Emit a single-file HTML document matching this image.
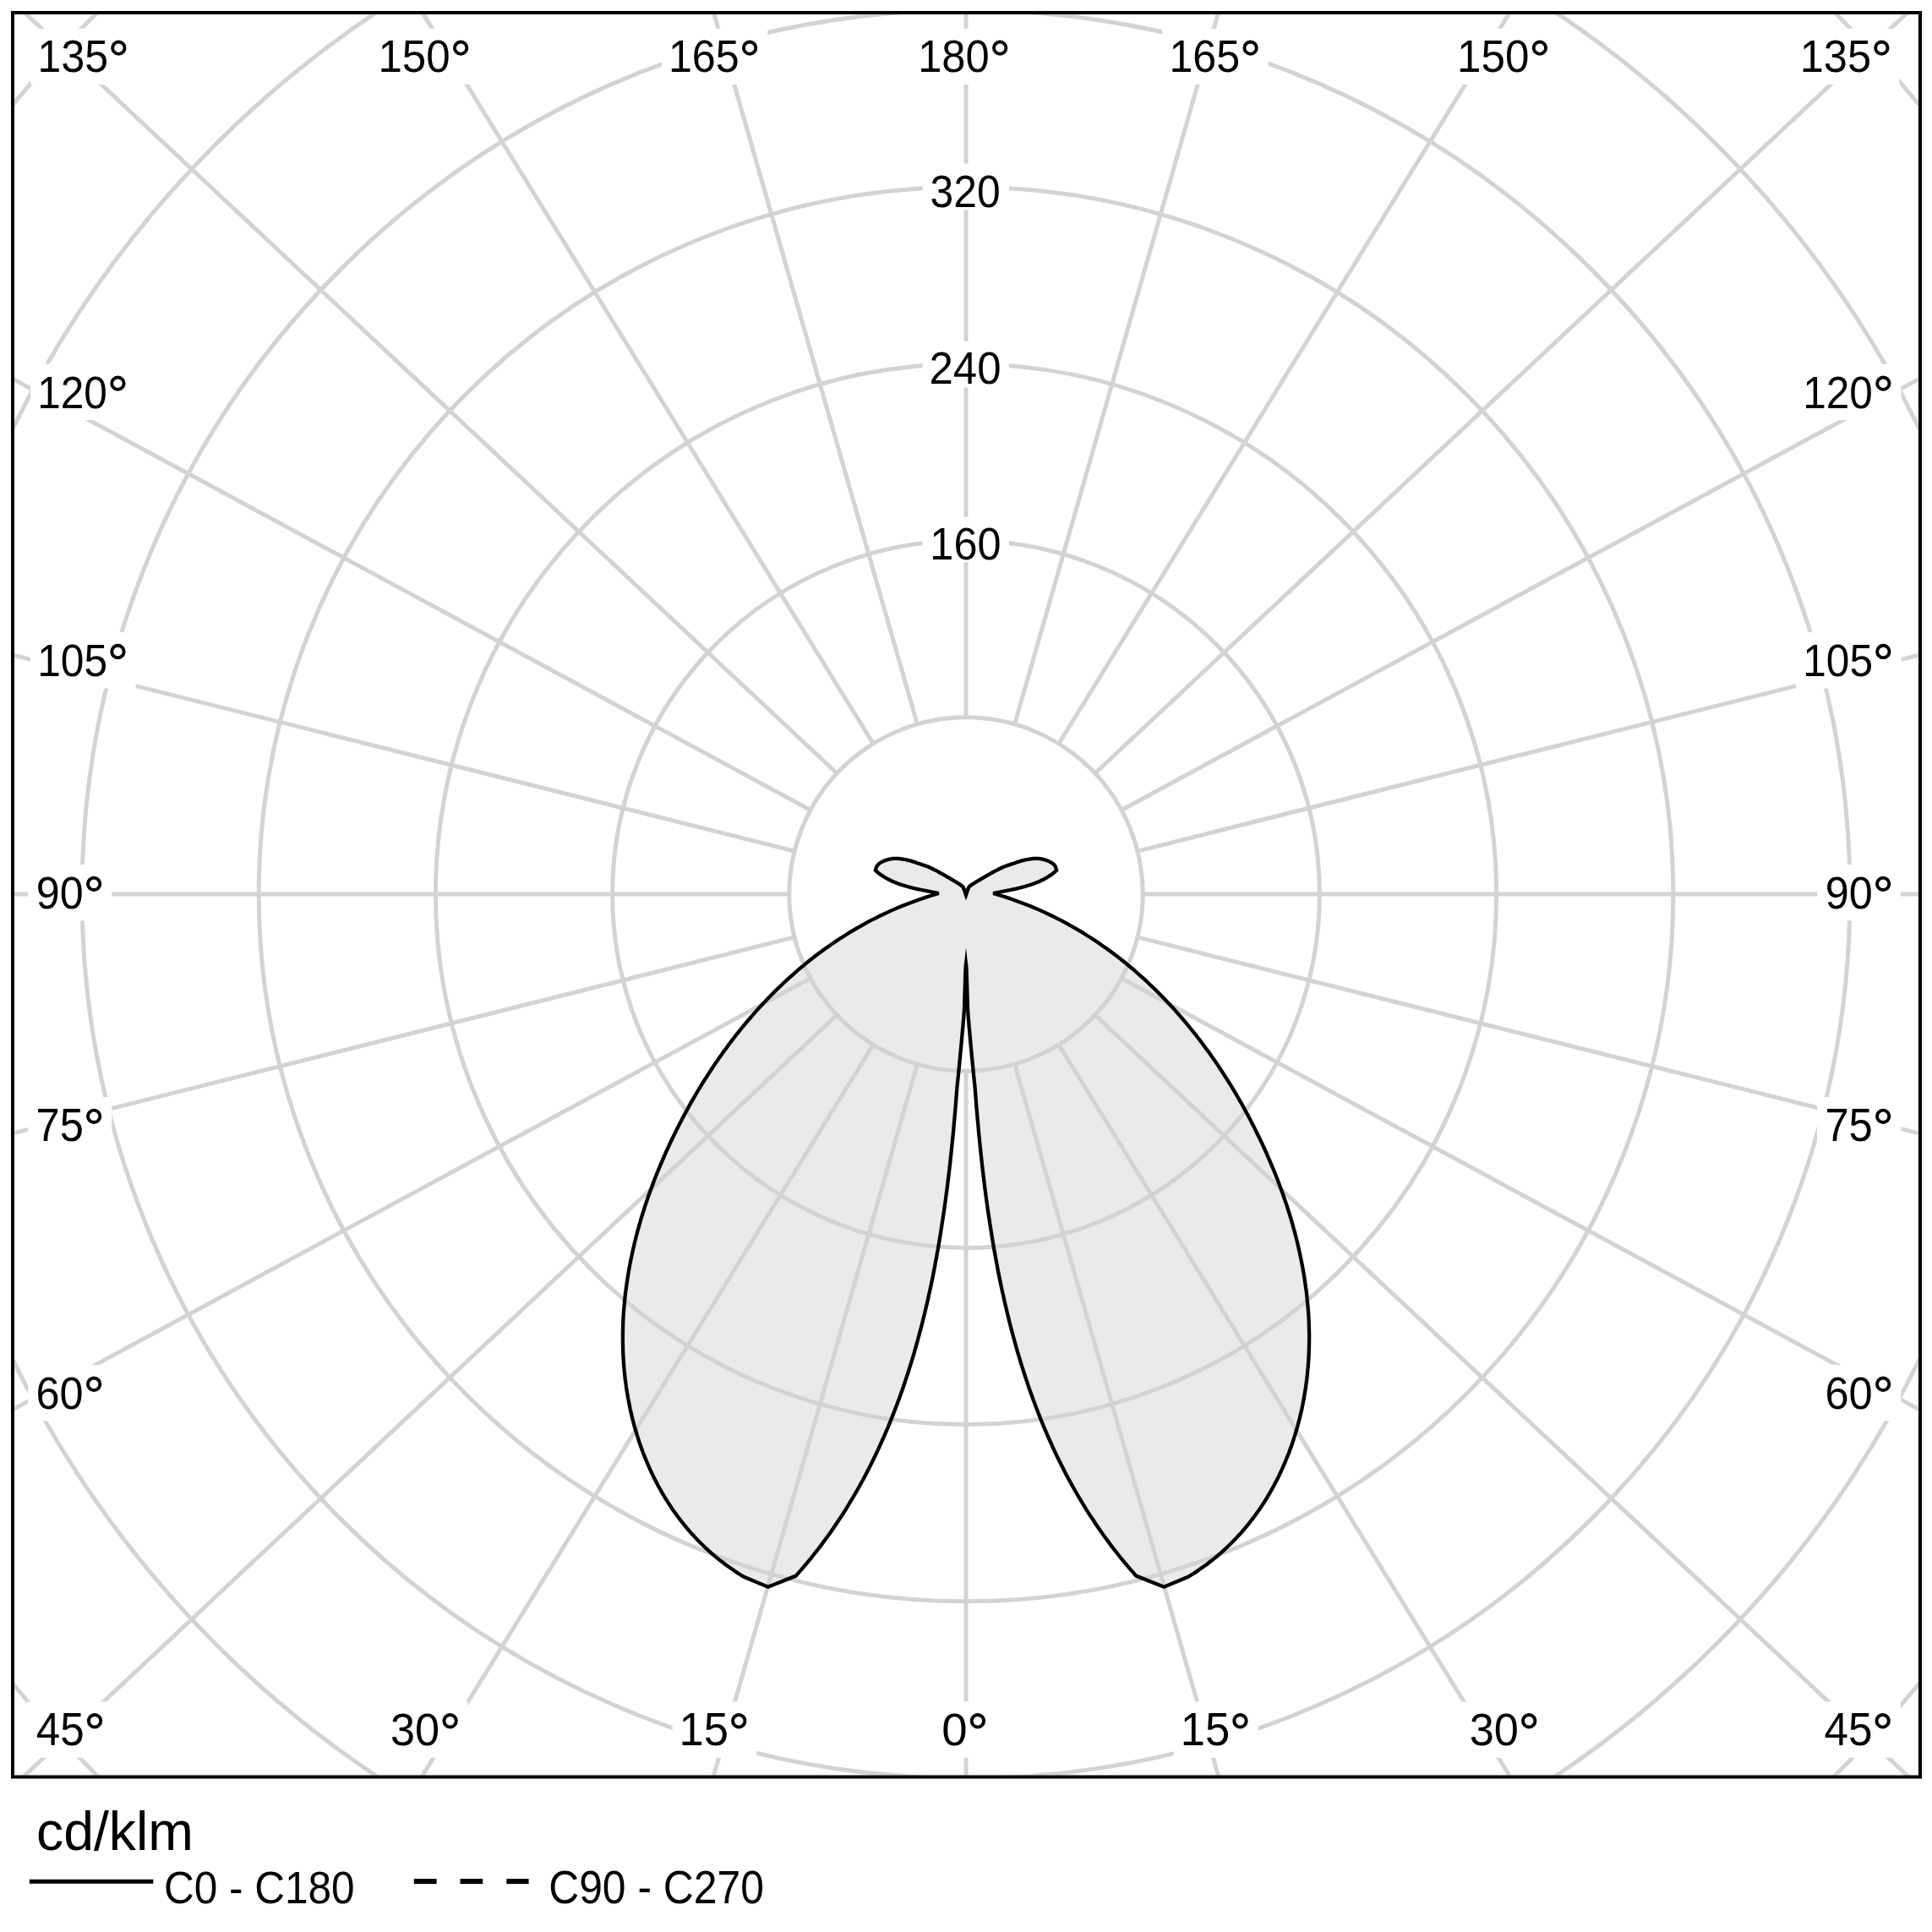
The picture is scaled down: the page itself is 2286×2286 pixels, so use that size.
<!DOCTYPE html>
<html><head><meta charset="utf-8"><style>
html,body{margin:0;padding:0;background:#fff;width:2286px;height:2286px;overflow:hidden}
svg{display:block}
text{font-family:"Liberation Sans",sans-serif;fill:#000}
</style></head><body>
<svg width="2286" height="2286" viewBox="0 0 2286 2286">
<defs><clipPath id="c"><rect x="17" y="17" width="2253" height="2083.5"/></clipPath></defs>
<rect width="2286" height="2286" fill="#fff"/>
<g clip-path="url(#c)">
<path d="M1143.0,1140.4 L1143.0,1140.7 L1143.1,1141.0 L1143.1,1141.3 L1143.2,1141.7 L1143.3,1142.3 L1143.3,1143.2 L1143.4,1144.4 L1143.5,1146.0 L1143.6,1148.1 L1143.7,1150.7 L1143.8,1153.6 L1143.9,1156.7 L1144.0,1160.0 L1144.1,1163.4 L1144.2,1166.8 L1144.3,1170.0 L1144.4,1173.2 L1144.5,1176.4 L1144.6,1179.6 L1144.7,1182.9 L1144.8,1186.2 L1144.9,1189.5 L1145.0,1192.8 L1145.2,1196.0 L1145.4,1199.1 L1145.6,1202.2 L1145.8,1205.1 L1146.1,1208.1 L1146.4,1211.2 L1146.6,1214.5 L1147.0,1217.9 L1147.3,1221.7 L1147.7,1225.9 L1148.1,1230.4 L1148.5,1235.3 L1149.0,1240.2 L1149.5,1245.2 L1149.9,1250.1 L1150.4,1254.7 L1150.8,1259.0 L1151.2,1263.1 L1151.6,1267.3 L1152.0,1271.4 L1152.4,1275.3 L1152.8,1278.9 L1153.1,1282.1 L1153.4,1284.8 L1153.6,1286.9 L1154.0,1292.0 L1154.4,1297.1 L1154.8,1302.2 L1155.2,1307.4 L1155.6,1312.5 L1156.1,1317.6 L1156.5,1322.8 L1157.0,1327.9 L1157.5,1333.1 L1157.9,1338.3 L1158.4,1343.4 L1158.9,1348.6 L1159.5,1353.8 L1160.0,1358.9 L1160.5,1364.1 L1161.1,1369.3 L1161.6,1374.5 L1162.2,1379.6 L1162.8,1384.8 L1163.4,1390.0 L1164.1,1395.2 L1164.7,1400.4 L1165.3,1405.6 L1166.0,1410.8 L1166.7,1416.0 L1167.4,1421.2 L1168.1,1426.3 L1168.8,1431.5 L1169.6,1436.7 L1170.4,1441.9 L1171.2,1447.1 L1172.0,1452.3 L1172.8,1457.5 L1173.6,1462.6 L1174.5,1467.8 L1175.3,1473.0 L1176.2,1478.2 L1177.2,1483.3 L1178.1,1488.5 L1179.1,1493.7 L1180.0,1498.8 L1181.0,1504.0 L1182.0,1509.1 L1183.1,1514.3 L1184.1,1519.4 L1185.2,1524.5 L1186.3,1529.6 L1187.5,1534.8 L1188.6,1539.9 L1189.8,1545.0 L1191.0,1550.1 L1192.2,1555.2 L1193.5,1560.2 L1194.7,1565.3 L1196.0,1570.4 L1197.4,1575.4 L1198.7,1580.5 L1200.1,1585.5 L1201.5,1590.6 L1202.9,1595.6 L1204.3,1600.6 L1205.8,1605.6 L1207.3,1610.6 L1208.9,1615.6 L1210.4,1620.5 L1212.0,1625.5 L1213.6,1630.4 L1215.3,1635.4 L1216.9,1640.3 L1218.6,1645.2 L1220.4,1650.1 L1222.1,1655.0 L1223.9,1659.8 L1225.8,1664.7 L1227.6,1669.5 L1229.5,1674.4 L1231.4,1679.2 L1233.4,1684.0 L1235.3,1688.8 L1237.4,1693.5 L1239.4,1698.3 L1241.5,1703.0 L1243.6,1707.7 L1245.7,1712.4 L1247.9,1717.1 L1250.1,1721.8 L1252.4,1726.5 L1254.7,1731.1 L1257.0,1735.7 L1259.3,1740.3 L1261.7,1744.9 L1264.1,1749.5 L1266.6,1754.0 L1269.1,1758.5 L1271.6,1763.0 L1274.2,1767.5 L1276.8,1772.0 L1279.5,1776.4 L1282.2,1780.9 L1284.9,1785.3 L1287.6,1789.6 L1290.4,1794.0 L1293.3,1798.3 L1296.2,1802.7 L1299.1,1807.0 L1302.0,1811.2 L1305.0,1815.5 L1308.1,1819.7 L1311.2,1823.9 L1314.3,1828.1 L1317.4,1832.3 L1320.7,1836.4 L1323.9,1840.5 L1327.2,1844.6 L1330.5,1848.6 L1333.9,1852.7 L1337.3,1856.7 L1340.8,1860.6 L1344.3,1864.6 L1377.3,1877.7 L1405.8,1865.8 L1409.6,1863.5 L1413.4,1861.1 L1417.1,1858.6 L1420.7,1856.1 L1424.3,1853.6 L1427.9,1851.0 L1431.3,1848.3 L1434.8,1845.6 L1438.2,1842.9 L1441.5,1840.1 L1444.7,1837.3 L1448.0,1834.4 L1451.1,1831.5 L1454.2,1828.5 L1457.3,1825.5 L1460.3,1822.4 L1463.2,1819.4 L1466.1,1816.2 L1469.0,1813.1 L1471.8,1809.8 L1474.5,1806.6 L1477.2,1803.3 L1479.8,1800.0 L1482.4,1796.6 L1485.0,1793.2 L1487.4,1789.8 L1489.9,1786.4 L1492.2,1782.9 L1494.6,1779.3 L1496.8,1775.8 L1499.1,1772.2 L1501.2,1768.6 L1503.4,1764.9 L1505.4,1761.3 L1507.5,1757.5 L1509.4,1753.8 L1511.4,1750.1 L1513.2,1746.3 L1515.0,1742.5 L1516.8,1738.6 L1518.5,1734.8 L1520.2,1730.9 L1521.8,1727.0 L1523.4,1723.1 L1525.0,1719.2 L1526.4,1715.2 L1527.9,1711.2 L1529.3,1707.2 L1530.6,1703.2 L1531.9,1699.2 L1533.1,1695.2 L1534.3,1691.1 L1535.5,1687.0 L1536.5,1682.9 L1537.6,1678.8 L1538.6,1674.7 L1539.6,1670.6 L1540.5,1666.5 L1541.3,1662.3 L1542.1,1658.2 L1542.9,1654.0 L1543.6,1649.9 L1544.3,1645.7 L1545.0,1641.5 L1545.5,1637.3 L1546.1,1633.1 L1546.6,1628.9 L1547.0,1624.8 L1547.4,1620.6 L1547.8,1616.4 L1548.1,1612.2 L1548.4,1607.9 L1548.6,1603.7 L1548.8,1599.5 L1548.9,1595.3 L1549.0,1591.1 L1549.1,1586.9 L1549.1,1582.7 L1549.1,1578.5 L1549.0,1574.3 L1548.9,1570.1 L1548.8,1565.8 L1548.6,1561.6 L1548.4,1557.4 L1548.1,1553.2 L1547.8,1549.0 L1547.4,1544.8 L1547.0,1540.6 L1546.6,1536.4 L1546.2,1532.2 L1545.7,1528.0 L1545.1,1523.8 L1544.5,1519.6 L1543.9,1515.4 L1543.3,1511.2 L1542.6,1507.0 L1541.9,1502.8 L1541.1,1498.6 L1540.3,1494.4 L1539.5,1490.3 L1538.6,1486.1 L1537.7,1481.9 L1536.8,1477.8 L1535.8,1473.6 L1534.9,1469.5 L1533.8,1465.3 L1532.8,1461.2 L1531.7,1457.0 L1530.5,1452.9 L1529.4,1448.8 L1528.2,1444.7 L1527.0,1440.5 L1525.7,1436.4 L1524.4,1432.3 L1523.1,1428.2 L1521.8,1424.2 L1520.4,1420.1 L1519.0,1416.0 L1517.6,1412.0 L1516.1,1407.9 L1514.6,1403.9 L1513.1,1399.8 L1511.6,1395.8 L1510.0,1391.8 L1508.4,1387.8 L1506.8,1383.8 L1505.1,1379.8 L1503.4,1375.8 L1501.7,1371.8 L1500.0,1367.9 L1498.3,1363.9 L1496.5,1360.0 L1494.7,1356.1 L1492.9,1352.2 L1491.0,1348.3 L1489.1,1344.4 L1487.2,1340.5 L1485.3,1336.6 L1483.4,1332.8 L1481.4,1328.9 L1479.4,1325.1 L1477.4,1321.3 L1475.4,1317.5 L1473.3,1313.7 L1471.3,1309.9 L1469.2,1306.1 L1467.0,1302.4 L1464.9,1298.7 L1462.7,1294.9 L1460.5,1291.2 L1458.3,1287.5 L1456.1,1283.9 L1453.8,1280.2 L1451.5,1276.6 L1449.2,1273.0 L1446.9,1269.4 L1444.5,1265.8 L1442.2,1262.2 L1439.8,1258.6 L1437.3,1255.1 L1434.9,1251.6 L1432.4,1248.1 L1430.0,1244.6 L1427.4,1241.2 L1424.9,1237.7 L1422.4,1234.3 L1419.8,1230.9 L1417.2,1227.5 L1414.6,1224.2 L1411.9,1220.8 L1409.2,1217.5 L1406.5,1214.2 L1403.8,1210.9 L1401.1,1207.7 L1398.3,1204.5 L1395.6,1201.3 L1392.8,1198.1 L1389.9,1194.9 L1387.1,1191.8 L1384.2,1188.7 L1381.3,1185.6 L1378.4,1182.5 L1375.5,1179.5 L1372.5,1176.5 L1369.5,1173.5 L1366.5,1170.5 L1363.5,1167.6 L1360.4,1164.7 L1357.4,1161.8 L1354.3,1158.9 L1351.1,1156.1 L1348.0,1153.3 L1344.8,1150.5 L1341.7,1147.7 L1338.4,1145.0 L1335.2,1142.3 L1332.0,1139.7 L1328.7,1137.0 L1325.4,1134.4 L1322.1,1131.8 L1318.7,1129.3 L1315.4,1126.8 L1312.0,1124.3 L1308.6,1121.8 L1305.1,1119.4 L1301.7,1117.0 L1298.2,1114.6 L1294.7,1112.3 L1291.2,1110.0 L1287.6,1107.7 L1284.1,1105.5 L1280.5,1103.2 L1276.9,1101.1 L1273.2,1098.9 L1269.6,1096.8 L1265.9,1094.8 L1262.2,1092.7 L1258.5,1090.7 L1254.7,1088.7 L1251.0,1086.8 L1247.2,1084.9 L1243.4,1083.0 L1239.5,1081.2 L1235.7,1079.4 L1231.8,1077.6 L1227.9,1075.9 L1224.0,1074.2 L1220.0,1072.6 L1216.1,1071.0 L1212.1,1069.4 L1208.1,1067.9 L1204.0,1066.4 L1200.0,1064.9 L1195.9,1063.5 L1191.8,1062.1 L1187.7,1060.8 L1183.6,1059.5 L1179.4,1058.2 L1175.2,1057.0 L1176.8,1056.7 L1178.5,1056.3 L1180.2,1056.0 L1181.8,1055.7 L1183.5,1055.4 L1185.2,1055.0 L1186.9,1054.7 L1188.6,1054.4 L1190.3,1054.0 L1192.0,1053.7 L1193.7,1053.4 L1195.4,1053.0 L1197.1,1052.7 L1198.8,1052.3 L1200.5,1051.9 L1202.2,1051.6 L1203.9,1051.2 L1205.6,1050.8 L1207.3,1050.3 L1209.0,1049.9 L1210.7,1049.5 L1212.3,1049.0 L1214.0,1048.5 L1215.7,1048.0 L1217.3,1047.5 L1219.0,1047.0 L1220.6,1046.5 L1222.2,1045.9 L1223.8,1045.3 L1225.5,1044.7 L1227.0,1044.0 L1228.6,1043.4 L1230.2,1042.7 L1231.7,1042.0 L1233.3,1041.2 L1234.8,1040.5 L1236.3,1039.7 L1237.8,1038.8 L1239.2,1038.0 L1240.7,1037.1 L1242.1,1036.1 L1243.5,1035.2 L1244.9,1034.2 L1246.3,1033.1 L1247.6,1032.1 L1248.9,1030.9 L1250.2,1029.8 L1250.1,1029.4 L1249.9,1028.8 L1249.7,1028.2 L1249.5,1027.5 L1249.3,1026.7 L1249.0,1025.9 L1248.7,1025.2 L1248.3,1024.6 L1247.9,1024.0 L1247.4,1023.5 L1247.0,1023.0 L1246.4,1022.4 L1245.9,1021.9 L1245.3,1021.4 L1244.6,1021.0 L1243.8,1020.5 L1242.9,1020.0 L1242.0,1019.6 L1241.0,1019.1 L1239.9,1018.6 L1238.8,1018.2 L1237.7,1017.8 L1236.6,1017.4 L1235.5,1017.1 L1234.5,1016.8 L1233.4,1016.6 L1232.4,1016.4 L1231.3,1016.2 L1230.3,1016.1 L1229.3,1015.9 L1228.2,1015.9 L1227.2,1015.8 L1226.2,1015.8 L1225.1,1015.8 L1224.1,1015.8 L1223.1,1015.9 L1222.1,1016.0 L1221.0,1016.1 L1220.0,1016.3 L1218.9,1016.4 L1217.8,1016.6 L1216.7,1016.8 L1215.5,1017.0 L1214.4,1017.2 L1213.3,1017.4 L1212.1,1017.7 L1211.1,1017.9 L1210.0,1018.2 L1209.0,1018.4 L1208.2,1018.7 L1207.5,1018.9 L1206.7,1019.1 L1205.9,1019.4 L1204.9,1019.7 L1203.8,1020.1 L1202.4,1020.6 L1200.8,1021.2 L1198.9,1021.8 L1196.8,1022.4 L1194.7,1023.2 L1192.4,1023.9 L1190.2,1024.7 L1187.9,1025.6 L1185.8,1026.5 L1183.7,1027.5 L1181.6,1028.5 L1179.5,1029.6 L1177.3,1030.7 L1175.2,1031.9 L1173.2,1033.0 L1171.2,1034.1 L1169.3,1035.2 L1167.4,1036.2 L1165.6,1037.3 L1163.7,1038.4 L1162.0,1039.4 L1160.3,1040.4 L1158.7,1041.4 L1157.3,1042.2 L1156.0,1043.0 L1154.9,1043.6 L1154.0,1044.2 L1153.3,1044.6 L1152.6,1045.0 L1152.0,1045.3 L1151.5,1045.7 L1151.0,1046.0 L1150.5,1046.3 L1150.0,1046.6 L1149.6,1046.9 L1149.2,1047.2 L1148.8,1047.5 L1148.5,1047.8 L1148.2,1048.1 L1147.9,1048.3 L1147.6,1048.6 L1147.3,1048.8 L1147.1,1049.0 L1146.9,1049.2 L1146.7,1049.3 L1146.6,1049.5 L1146.4,1049.8 L1146.2,1050.2 L1145.9,1050.8 L1145.6,1051.6 L1145.2,1052.6 L1144.8,1053.8 L1144.3,1055.0 L1143.9,1056.3 L1143.5,1057.4 L1143.2,1058.3 L1143.0,1059.0 L1142.8,1058.3 L1142.5,1057.4 L1142.1,1056.3 L1141.7,1055.0 L1141.2,1053.8 L1140.8,1052.6 L1140.4,1051.6 L1140.1,1050.8 L1139.8,1050.2 L1139.6,1049.8 L1139.4,1049.5 L1139.3,1049.3 L1139.1,1049.2 L1138.9,1049.0 L1138.7,1048.8 L1138.4,1048.6 L1138.1,1048.3 L1137.8,1048.1 L1137.5,1047.8 L1137.2,1047.5 L1136.8,1047.2 L1136.4,1046.9 L1136.0,1046.6 L1135.5,1046.3 L1135.0,1046.0 L1134.5,1045.7 L1134.0,1045.3 L1133.4,1045.0 L1132.7,1044.6 L1132.0,1044.2 L1131.1,1043.6 L1130.0,1043.0 L1128.7,1042.2 L1127.3,1041.4 L1125.7,1040.4 L1124.0,1039.4 L1122.3,1038.4 L1120.4,1037.3 L1118.6,1036.2 L1116.7,1035.2 L1114.8,1034.1 L1112.8,1033.0 L1110.8,1031.9 L1108.7,1030.7 L1106.5,1029.6 L1104.4,1028.5 L1102.3,1027.5 L1100.2,1026.5 L1098.1,1025.6 L1095.8,1024.7 L1093.6,1023.9 L1091.3,1023.2 L1089.2,1022.4 L1087.1,1021.8 L1085.2,1021.2 L1083.6,1020.6 L1082.2,1020.1 L1081.1,1019.7 L1080.1,1019.4 L1079.3,1019.1 L1078.5,1018.9 L1077.8,1018.7 L1077.0,1018.4 L1076.0,1018.2 L1074.9,1017.9 L1073.9,1017.7 L1072.7,1017.4 L1071.6,1017.2 L1070.5,1017.0 L1069.3,1016.8 L1068.2,1016.6 L1067.1,1016.4 L1066.0,1016.3 L1065.0,1016.1 L1063.9,1016.0 L1062.9,1015.9 L1061.9,1015.8 L1060.9,1015.8 L1059.8,1015.8 L1058.8,1015.8 L1057.8,1015.9 L1056.7,1015.9 L1055.7,1016.1 L1054.7,1016.2 L1053.6,1016.4 L1052.6,1016.6 L1051.5,1016.8 L1050.5,1017.1 L1049.4,1017.4 L1048.3,1017.8 L1047.2,1018.2 L1046.1,1018.6 L1045.0,1019.1 L1044.0,1019.6 L1043.1,1020.0 L1042.2,1020.5 L1041.4,1021.0 L1040.7,1021.4 L1040.1,1021.9 L1039.6,1022.4 L1039.0,1023.0 L1038.6,1023.5 L1038.1,1024.0 L1037.7,1024.6 L1037.3,1025.2 L1037.0,1025.9 L1036.7,1026.7 L1036.5,1027.5 L1036.3,1028.2 L1036.1,1028.8 L1035.9,1029.4 L1035.8,1029.8 L1037.1,1030.9 L1038.4,1032.1 L1039.7,1033.1 L1041.1,1034.2 L1042.5,1035.2 L1043.9,1036.1 L1045.3,1037.1 L1046.8,1038.0 L1048.2,1038.8 L1049.7,1039.7 L1051.2,1040.5 L1052.7,1041.2 L1054.3,1042.0 L1055.8,1042.7 L1057.4,1043.4 L1059.0,1044.0 L1060.5,1044.7 L1062.2,1045.3 L1063.8,1045.9 L1065.4,1046.5 L1067.0,1047.0 L1068.7,1047.5 L1070.3,1048.0 L1072.0,1048.5 L1073.7,1049.0 L1075.3,1049.5 L1077.0,1049.9 L1078.7,1050.3 L1080.4,1050.8 L1082.1,1051.2 L1083.8,1051.6 L1085.5,1051.9 L1087.2,1052.3 L1088.9,1052.7 L1090.6,1053.0 L1092.3,1053.4 L1094.0,1053.7 L1095.7,1054.0 L1097.4,1054.4 L1099.1,1054.7 L1100.8,1055.0 L1102.5,1055.4 L1104.2,1055.7 L1105.8,1056.0 L1107.5,1056.3 L1109.2,1056.7 L1110.8,1057.0 L1106.6,1058.2 L1102.4,1059.5 L1098.3,1060.8 L1094.2,1062.1 L1090.1,1063.5 L1086.0,1064.9 L1082.0,1066.4 L1077.9,1067.9 L1073.9,1069.4 L1069.9,1071.0 L1066.0,1072.6 L1062.0,1074.2 L1058.1,1075.9 L1054.2,1077.6 L1050.3,1079.4 L1046.5,1081.2 L1042.6,1083.0 L1038.8,1084.9 L1035.0,1086.8 L1031.3,1088.7 L1027.5,1090.7 L1023.8,1092.7 L1020.1,1094.8 L1016.4,1096.8 L1012.8,1098.9 L1009.1,1101.1 L1005.5,1103.2 L1001.9,1105.5 L998.4,1107.7 L994.8,1110.0 L991.3,1112.3 L987.8,1114.6 L984.3,1117.0 L980.9,1119.4 L977.4,1121.8 L974.0,1124.3 L970.6,1126.8 L967.3,1129.3 L963.9,1131.8 L960.6,1134.4 L957.3,1137.0 L954.0,1139.7 L950.8,1142.3 L947.6,1145.0 L944.3,1147.7 L941.2,1150.5 L938.0,1153.3 L934.9,1156.1 L931.7,1158.9 L928.6,1161.8 L925.6,1164.7 L922.5,1167.6 L919.5,1170.5 L916.5,1173.5 L913.5,1176.5 L910.5,1179.5 L907.6,1182.5 L904.7,1185.6 L901.8,1188.7 L898.9,1191.8 L896.1,1194.9 L893.2,1198.1 L890.4,1201.3 L887.7,1204.5 L884.9,1207.7 L882.2,1210.9 L879.5,1214.2 L876.8,1217.5 L874.1,1220.8 L871.4,1224.2 L868.8,1227.5 L866.2,1230.9 L863.6,1234.3 L861.1,1237.7 L858.6,1241.2 L856.0,1244.6 L853.6,1248.1 L851.1,1251.6 L848.7,1255.1 L846.2,1258.6 L843.8,1262.2 L841.5,1265.8 L839.1,1269.4 L836.8,1273.0 L834.5,1276.6 L832.2,1280.2 L829.9,1283.9 L827.7,1287.5 L825.5,1291.2 L823.3,1294.9 L821.1,1298.7 L819.0,1302.4 L816.8,1306.1 L814.7,1309.9 L812.7,1313.7 L810.6,1317.5 L808.6,1321.3 L806.6,1325.1 L804.6,1328.9 L802.6,1332.8 L800.7,1336.6 L798.8,1340.5 L796.9,1344.4 L795.0,1348.3 L793.1,1352.2 L791.3,1356.1 L789.5,1360.0 L787.7,1363.9 L786.0,1367.9 L784.3,1371.8 L782.6,1375.8 L780.9,1379.8 L779.2,1383.8 L777.6,1387.8 L776.0,1391.8 L774.4,1395.8 L772.9,1399.8 L771.4,1403.9 L769.9,1407.9 L768.4,1412.0 L767.0,1416.0 L765.6,1420.1 L764.2,1424.2 L762.9,1428.2 L761.6,1432.3 L760.3,1436.4 L759.0,1440.5 L757.8,1444.7 L756.6,1448.8 L755.5,1452.9 L754.3,1457.0 L753.2,1461.2 L752.2,1465.3 L751.1,1469.5 L750.2,1473.6 L749.2,1477.8 L748.3,1481.9 L747.4,1486.1 L746.5,1490.3 L745.7,1494.4 L744.9,1498.6 L744.1,1502.8 L743.4,1507.0 L742.7,1511.2 L742.1,1515.4 L741.5,1519.6 L740.9,1523.8 L740.3,1528.0 L739.8,1532.2 L739.4,1536.4 L739.0,1540.6 L738.6,1544.8 L738.2,1549.0 L737.9,1553.2 L737.6,1557.4 L737.4,1561.6 L737.2,1565.8 L737.1,1570.1 L737.0,1574.3 L736.9,1578.5 L736.9,1582.7 L736.9,1586.9 L737.0,1591.1 L737.1,1595.3 L737.2,1599.5 L737.4,1603.7 L737.6,1607.9 L737.9,1612.2 L738.2,1616.4 L738.6,1620.6 L739.0,1624.8 L739.4,1628.9 L739.9,1633.1 L740.5,1637.3 L741.0,1641.5 L741.7,1645.7 L742.4,1649.9 L743.1,1654.0 L743.9,1658.2 L744.7,1662.3 L745.5,1666.5 L746.4,1670.6 L747.4,1674.7 L748.4,1678.8 L749.5,1682.9 L750.5,1687.0 L751.7,1691.1 L752.9,1695.2 L754.1,1699.2 L755.4,1703.2 L756.7,1707.2 L758.1,1711.2 L759.6,1715.2 L761.0,1719.2 L762.6,1723.1 L764.2,1727.0 L765.8,1730.9 L767.5,1734.8 L769.2,1738.6 L771.0,1742.5 L772.8,1746.3 L774.6,1750.1 L776.6,1753.8 L778.5,1757.5 L780.6,1761.3 L782.6,1764.9 L784.8,1768.6 L786.9,1772.2 L789.2,1775.8 L791.4,1779.3 L793.8,1782.9 L796.1,1786.4 L798.6,1789.8 L801.0,1793.2 L803.6,1796.6 L806.2,1800.0 L808.8,1803.3 L811.5,1806.6 L814.2,1809.8 L817.0,1813.1 L819.9,1816.2 L822.8,1819.4 L825.7,1822.4 L828.7,1825.5 L831.8,1828.5 L834.9,1831.5 L838.0,1834.4 L841.3,1837.3 L844.5,1840.1 L847.8,1842.9 L851.2,1845.6 L854.7,1848.3 L858.1,1851.0 L861.7,1853.6 L865.3,1856.1 L868.9,1858.6 L872.6,1861.1 L876.4,1863.5 L880.2,1865.8 L908.7,1877.7 L941.7,1864.6 L945.2,1860.6 L948.7,1856.7 L952.1,1852.7 L955.5,1848.6 L958.8,1844.6 L962.1,1840.5 L965.3,1836.4 L968.6,1832.3 L971.7,1828.1 L974.8,1823.9 L977.9,1819.7 L981.0,1815.5 L984.0,1811.2 L986.9,1807.0 L989.8,1802.7 L992.7,1798.3 L995.6,1794.0 L998.4,1789.6 L1001.1,1785.3 L1003.8,1780.9 L1006.5,1776.4 L1009.2,1772.0 L1011.8,1767.5 L1014.4,1763.0 L1016.9,1758.5 L1019.4,1754.0 L1021.9,1749.5 L1024.3,1744.9 L1026.7,1740.3 L1029.0,1735.7 L1031.3,1731.1 L1033.6,1726.5 L1035.9,1721.8 L1038.1,1717.1 L1040.3,1712.4 L1042.4,1707.7 L1044.5,1703.0 L1046.6,1698.3 L1048.6,1693.5 L1050.7,1688.8 L1052.6,1684.0 L1054.6,1679.2 L1056.5,1674.4 L1058.4,1669.5 L1060.2,1664.7 L1062.1,1659.8 L1063.9,1655.0 L1065.6,1650.1 L1067.4,1645.2 L1069.1,1640.3 L1070.7,1635.4 L1072.4,1630.4 L1074.0,1625.5 L1075.6,1620.5 L1077.1,1615.6 L1078.7,1610.6 L1080.2,1605.6 L1081.7,1600.6 L1083.1,1595.6 L1084.5,1590.6 L1085.9,1585.5 L1087.3,1580.5 L1088.6,1575.4 L1090.0,1570.4 L1091.3,1565.3 L1092.5,1560.2 L1093.8,1555.2 L1095.0,1550.1 L1096.2,1545.0 L1097.4,1539.9 L1098.5,1534.8 L1099.7,1529.6 L1100.8,1524.5 L1101.9,1519.4 L1102.9,1514.3 L1104.0,1509.1 L1105.0,1504.0 L1106.0,1498.8 L1106.9,1493.7 L1107.9,1488.5 L1108.8,1483.3 L1109.8,1478.2 L1110.7,1473.0 L1111.5,1467.8 L1112.4,1462.6 L1113.2,1457.5 L1114.0,1452.3 L1114.8,1447.1 L1115.6,1441.9 L1116.4,1436.7 L1117.2,1431.5 L1117.9,1426.3 L1118.6,1421.2 L1119.3,1416.0 L1120.0,1410.8 L1120.7,1405.6 L1121.3,1400.4 L1121.9,1395.2 L1122.6,1390.0 L1123.2,1384.8 L1123.8,1379.6 L1124.4,1374.5 L1124.9,1369.3 L1125.5,1364.1 L1126.0,1358.9 L1126.5,1353.8 L1127.1,1348.6 L1127.6,1343.4 L1128.1,1338.3 L1128.5,1333.1 L1129.0,1327.9 L1129.5,1322.8 L1129.9,1317.6 L1130.4,1312.5 L1130.8,1307.4 L1131.2,1302.2 L1131.6,1297.1 L1132.0,1292.0 L1132.4,1286.9 L1132.6,1284.8 L1132.9,1282.1 L1133.2,1278.9 L1133.6,1275.3 L1134.0,1271.4 L1134.4,1267.3 L1134.8,1263.1 L1135.2,1259.0 L1135.6,1254.7 L1136.1,1250.1 L1136.5,1245.2 L1137.0,1240.2 L1137.5,1235.3 L1137.9,1230.4 L1138.3,1225.9 L1138.7,1221.7 L1139.0,1217.9 L1139.4,1214.5 L1139.6,1211.2 L1139.9,1208.1 L1140.2,1205.1 L1140.4,1202.2 L1140.6,1199.1 L1140.8,1196.0 L1141.0,1192.8 L1141.1,1189.5 L1141.2,1186.2 L1141.3,1182.9 L1141.4,1179.6 L1141.5,1176.4 L1141.6,1173.2 L1141.7,1170.0 L1141.8,1166.8 L1141.9,1163.4 L1142.0,1160.0 L1142.1,1156.7 L1142.2,1153.6 L1142.3,1150.7 L1142.4,1148.1 L1142.5,1146.0 L1142.6,1144.4 L1142.7,1143.2 L1142.7,1142.3 L1142.8,1141.7 L1142.9,1141.3 L1142.9,1141.0 L1143.0,1140.7 L1143.0,1140.4 Z" fill="#eaeaea" stroke="none"/>
<g fill="none" stroke="#d3d3d3" stroke-width="5.0">
<circle cx="1143.0" cy="1058.0" r="209.2"/>
<circle cx="1143.0" cy="1058.0" r="418.4"/>
<circle cx="1143.0" cy="1058.0" r="627.6"/>
<circle cx="1143.0" cy="1058.0" r="836.8"/>
<circle cx="1143.0" cy="1058.0" r="1046.0"/>
<circle cx="1143.0" cy="1058.0" r="1255.2"/>
<circle cx="1143.0" cy="1058.0" r="1464.4"/>
<line x1="1143.0" y1="1267.2" x2="1143.0" y2="4058.0"/>
<line x1="1200.6" y1="1259.1" x2="1968.4" y2="3942.2"/>
<line x1="1252.8" y1="1236.1" x2="2717.6" y2="3611.6"/>
<line x1="1295.7" y1="1201.0" x2="3332.9" y2="3108.5"/>
<line x1="1327.0" y1="1157.5" x2="3782.1" y2="2484.7"/>
<line x1="1345.9" y1="1108.9" x2="4052.8" y2="1788.0"/>
<line x1="1352.2" y1="1058.0" x2="4143.0" y2="1058.0"/>
<line x1="1345.9" y1="1007.1" x2="4052.8" y2="328.0"/>
<line x1="1327.0" y1="958.5" x2="3782.1" y2="-368.7"/>
<line x1="1295.7" y1="915.0" x2="3332.9" y2="-992.5"/>
<line x1="1252.8" y1="879.9" x2="2717.6" y2="-1495.6"/>
<line x1="1200.6" y1="856.9" x2="1968.4" y2="-1826.2"/>
<line x1="1143.0" y1="848.8" x2="1143.0" y2="-1942.0"/>
<line x1="1085.4" y1="856.9" x2="317.6" y2="-1826.2"/>
<line x1="1033.2" y1="879.9" x2="-431.6" y2="-1495.6"/>
<line x1="990.3" y1="915.0" x2="-1046.9" y2="-992.5"/>
<line x1="959.0" y1="958.5" x2="-1496.1" y2="-368.7"/>
<line x1="940.1" y1="1007.1" x2="-1766.8" y2="328.0"/>
<line x1="933.8" y1="1058.0" x2="-1857.0" y2="1058.0"/>
<line x1="940.1" y1="1108.9" x2="-1766.8" y2="1788.0"/>
<line x1="959.0" y1="1157.5" x2="-1496.1" y2="2484.7"/>
<line x1="990.3" y1="1201.0" x2="-1046.9" y2="3108.5"/>
<line x1="1033.2" y1="1236.1" x2="-431.6" y2="3611.6"/>
<line x1="1085.4" y1="1259.1" x2="317.6" y2="3942.2"/>
</g>
<path d="M1143.0,1140.4 L1143.0,1140.7 L1143.1,1141.0 L1143.1,1141.3 L1143.2,1141.7 L1143.3,1142.3 L1143.3,1143.2 L1143.4,1144.4 L1143.5,1146.0 L1143.6,1148.1 L1143.7,1150.7 L1143.8,1153.6 L1143.9,1156.7 L1144.0,1160.0 L1144.1,1163.4 L1144.2,1166.8 L1144.3,1170.0 L1144.4,1173.2 L1144.5,1176.4 L1144.6,1179.6 L1144.7,1182.9 L1144.8,1186.2 L1144.9,1189.5 L1145.0,1192.8 L1145.2,1196.0 L1145.4,1199.1 L1145.6,1202.2 L1145.8,1205.1 L1146.1,1208.1 L1146.4,1211.2 L1146.6,1214.5 L1147.0,1217.9 L1147.3,1221.7 L1147.7,1225.9 L1148.1,1230.4 L1148.5,1235.3 L1149.0,1240.2 L1149.5,1245.2 L1149.9,1250.1 L1150.4,1254.7 L1150.8,1259.0 L1151.2,1263.1 L1151.6,1267.3 L1152.0,1271.4 L1152.4,1275.3 L1152.8,1278.9 L1153.1,1282.1 L1153.4,1284.8 L1153.6,1286.9 L1154.0,1292.0 L1154.4,1297.1 L1154.8,1302.2 L1155.2,1307.4 L1155.6,1312.5 L1156.1,1317.6 L1156.5,1322.8 L1157.0,1327.9 L1157.5,1333.1 L1157.9,1338.3 L1158.4,1343.4 L1158.9,1348.6 L1159.5,1353.8 L1160.0,1358.9 L1160.5,1364.1 L1161.1,1369.3 L1161.6,1374.5 L1162.2,1379.6 L1162.8,1384.8 L1163.4,1390.0 L1164.1,1395.2 L1164.7,1400.4 L1165.3,1405.6 L1166.0,1410.8 L1166.7,1416.0 L1167.4,1421.2 L1168.1,1426.3 L1168.8,1431.5 L1169.6,1436.7 L1170.4,1441.9 L1171.2,1447.1 L1172.0,1452.3 L1172.8,1457.5 L1173.6,1462.6 L1174.5,1467.8 L1175.3,1473.0 L1176.2,1478.2 L1177.2,1483.3 L1178.1,1488.5 L1179.1,1493.7 L1180.0,1498.8 L1181.0,1504.0 L1182.0,1509.1 L1183.1,1514.3 L1184.1,1519.4 L1185.2,1524.5 L1186.3,1529.6 L1187.5,1534.8 L1188.6,1539.9 L1189.8,1545.0 L1191.0,1550.1 L1192.2,1555.2 L1193.5,1560.2 L1194.7,1565.3 L1196.0,1570.4 L1197.4,1575.4 L1198.7,1580.5 L1200.1,1585.5 L1201.5,1590.6 L1202.9,1595.6 L1204.3,1600.6 L1205.8,1605.6 L1207.3,1610.6 L1208.9,1615.6 L1210.4,1620.5 L1212.0,1625.5 L1213.6,1630.4 L1215.3,1635.4 L1216.9,1640.3 L1218.6,1645.2 L1220.4,1650.1 L1222.1,1655.0 L1223.9,1659.8 L1225.8,1664.7 L1227.6,1669.5 L1229.5,1674.4 L1231.4,1679.2 L1233.4,1684.0 L1235.3,1688.8 L1237.4,1693.5 L1239.4,1698.3 L1241.5,1703.0 L1243.6,1707.7 L1245.7,1712.4 L1247.9,1717.1 L1250.1,1721.8 L1252.4,1726.5 L1254.7,1731.1 L1257.0,1735.7 L1259.3,1740.3 L1261.7,1744.9 L1264.1,1749.5 L1266.6,1754.0 L1269.1,1758.5 L1271.6,1763.0 L1274.2,1767.5 L1276.8,1772.0 L1279.5,1776.4 L1282.2,1780.9 L1284.9,1785.3 L1287.6,1789.6 L1290.4,1794.0 L1293.3,1798.3 L1296.2,1802.7 L1299.1,1807.0 L1302.0,1811.2 L1305.0,1815.5 L1308.1,1819.7 L1311.2,1823.9 L1314.3,1828.1 L1317.4,1832.3 L1320.7,1836.4 L1323.9,1840.5 L1327.2,1844.6 L1330.5,1848.6 L1333.9,1852.7 L1337.3,1856.7 L1340.8,1860.6 L1344.3,1864.6 L1377.3,1877.7 L1405.8,1865.8 L1409.6,1863.5 L1413.4,1861.1 L1417.1,1858.6 L1420.7,1856.1 L1424.3,1853.6 L1427.9,1851.0 L1431.3,1848.3 L1434.8,1845.6 L1438.2,1842.9 L1441.5,1840.1 L1444.7,1837.3 L1448.0,1834.4 L1451.1,1831.5 L1454.2,1828.5 L1457.3,1825.5 L1460.3,1822.4 L1463.2,1819.4 L1466.1,1816.2 L1469.0,1813.1 L1471.8,1809.8 L1474.5,1806.6 L1477.2,1803.3 L1479.8,1800.0 L1482.4,1796.6 L1485.0,1793.2 L1487.4,1789.8 L1489.9,1786.4 L1492.2,1782.9 L1494.6,1779.3 L1496.8,1775.8 L1499.1,1772.2 L1501.2,1768.6 L1503.4,1764.9 L1505.4,1761.3 L1507.5,1757.5 L1509.4,1753.8 L1511.4,1750.1 L1513.2,1746.3 L1515.0,1742.5 L1516.8,1738.6 L1518.5,1734.8 L1520.2,1730.9 L1521.8,1727.0 L1523.4,1723.1 L1525.0,1719.2 L1526.4,1715.2 L1527.9,1711.2 L1529.3,1707.2 L1530.6,1703.2 L1531.9,1699.2 L1533.1,1695.2 L1534.3,1691.1 L1535.5,1687.0 L1536.5,1682.9 L1537.6,1678.8 L1538.6,1674.7 L1539.6,1670.6 L1540.5,1666.5 L1541.3,1662.3 L1542.1,1658.2 L1542.9,1654.0 L1543.6,1649.9 L1544.3,1645.7 L1545.0,1641.5 L1545.5,1637.3 L1546.1,1633.1 L1546.6,1628.9 L1547.0,1624.8 L1547.4,1620.6 L1547.8,1616.4 L1548.1,1612.2 L1548.4,1607.9 L1548.6,1603.7 L1548.8,1599.5 L1548.9,1595.3 L1549.0,1591.1 L1549.1,1586.9 L1549.1,1582.7 L1549.1,1578.5 L1549.0,1574.3 L1548.9,1570.1 L1548.8,1565.8 L1548.6,1561.6 L1548.4,1557.4 L1548.1,1553.2 L1547.8,1549.0 L1547.4,1544.8 L1547.0,1540.6 L1546.6,1536.4 L1546.2,1532.2 L1545.7,1528.0 L1545.1,1523.8 L1544.5,1519.6 L1543.9,1515.4 L1543.3,1511.2 L1542.6,1507.0 L1541.9,1502.8 L1541.1,1498.6 L1540.3,1494.4 L1539.5,1490.3 L1538.6,1486.1 L1537.7,1481.9 L1536.8,1477.8 L1535.8,1473.6 L1534.9,1469.5 L1533.8,1465.3 L1532.8,1461.2 L1531.7,1457.0 L1530.5,1452.9 L1529.4,1448.8 L1528.2,1444.7 L1527.0,1440.5 L1525.7,1436.4 L1524.4,1432.3 L1523.1,1428.2 L1521.8,1424.2 L1520.4,1420.1 L1519.0,1416.0 L1517.6,1412.0 L1516.1,1407.9 L1514.6,1403.9 L1513.1,1399.8 L1511.6,1395.8 L1510.0,1391.8 L1508.4,1387.8 L1506.8,1383.8 L1505.1,1379.8 L1503.4,1375.8 L1501.7,1371.8 L1500.0,1367.9 L1498.3,1363.9 L1496.5,1360.0 L1494.7,1356.1 L1492.9,1352.2 L1491.0,1348.3 L1489.1,1344.4 L1487.2,1340.5 L1485.3,1336.6 L1483.4,1332.8 L1481.4,1328.9 L1479.4,1325.1 L1477.4,1321.3 L1475.4,1317.5 L1473.3,1313.7 L1471.3,1309.9 L1469.2,1306.1 L1467.0,1302.4 L1464.9,1298.7 L1462.7,1294.9 L1460.5,1291.2 L1458.3,1287.5 L1456.1,1283.9 L1453.8,1280.2 L1451.5,1276.6 L1449.2,1273.0 L1446.9,1269.4 L1444.5,1265.8 L1442.2,1262.2 L1439.8,1258.6 L1437.3,1255.1 L1434.9,1251.6 L1432.4,1248.1 L1430.0,1244.6 L1427.4,1241.2 L1424.9,1237.7 L1422.4,1234.3 L1419.8,1230.9 L1417.2,1227.5 L1414.6,1224.2 L1411.9,1220.8 L1409.2,1217.5 L1406.5,1214.2 L1403.8,1210.9 L1401.1,1207.7 L1398.3,1204.5 L1395.6,1201.3 L1392.8,1198.1 L1389.9,1194.9 L1387.1,1191.8 L1384.2,1188.7 L1381.3,1185.6 L1378.4,1182.5 L1375.5,1179.5 L1372.5,1176.5 L1369.5,1173.5 L1366.5,1170.5 L1363.5,1167.6 L1360.4,1164.7 L1357.4,1161.8 L1354.3,1158.9 L1351.1,1156.1 L1348.0,1153.3 L1344.8,1150.5 L1341.7,1147.7 L1338.4,1145.0 L1335.2,1142.3 L1332.0,1139.7 L1328.7,1137.0 L1325.4,1134.4 L1322.1,1131.8 L1318.7,1129.3 L1315.4,1126.8 L1312.0,1124.3 L1308.6,1121.8 L1305.1,1119.4 L1301.7,1117.0 L1298.2,1114.6 L1294.7,1112.3 L1291.2,1110.0 L1287.6,1107.7 L1284.1,1105.5 L1280.5,1103.2 L1276.9,1101.1 L1273.2,1098.9 L1269.6,1096.8 L1265.9,1094.8 L1262.2,1092.7 L1258.5,1090.7 L1254.7,1088.7 L1251.0,1086.8 L1247.2,1084.9 L1243.4,1083.0 L1239.5,1081.2 L1235.7,1079.4 L1231.8,1077.6 L1227.9,1075.9 L1224.0,1074.2 L1220.0,1072.6 L1216.1,1071.0 L1212.1,1069.4 L1208.1,1067.9 L1204.0,1066.4 L1200.0,1064.9 L1195.9,1063.5 L1191.8,1062.1 L1187.7,1060.8 L1183.6,1059.5 L1179.4,1058.2 L1175.2,1057.0 L1176.8,1056.7 L1178.5,1056.3 L1180.2,1056.0 L1181.8,1055.7 L1183.5,1055.4 L1185.2,1055.0 L1186.9,1054.7 L1188.6,1054.4 L1190.3,1054.0 L1192.0,1053.7 L1193.7,1053.4 L1195.4,1053.0 L1197.1,1052.7 L1198.8,1052.3 L1200.5,1051.9 L1202.2,1051.6 L1203.9,1051.2 L1205.6,1050.8 L1207.3,1050.3 L1209.0,1049.9 L1210.7,1049.5 L1212.3,1049.0 L1214.0,1048.5 L1215.7,1048.0 L1217.3,1047.5 L1219.0,1047.0 L1220.6,1046.5 L1222.2,1045.9 L1223.8,1045.3 L1225.5,1044.7 L1227.0,1044.0 L1228.6,1043.4 L1230.2,1042.7 L1231.7,1042.0 L1233.3,1041.2 L1234.8,1040.5 L1236.3,1039.7 L1237.8,1038.8 L1239.2,1038.0 L1240.7,1037.1 L1242.1,1036.1 L1243.5,1035.2 L1244.9,1034.2 L1246.3,1033.1 L1247.6,1032.1 L1248.9,1030.9 L1250.2,1029.8 L1250.1,1029.4 L1249.9,1028.8 L1249.7,1028.2 L1249.5,1027.5 L1249.3,1026.7 L1249.0,1025.9 L1248.7,1025.2 L1248.3,1024.6 L1247.9,1024.0 L1247.4,1023.5 L1247.0,1023.0 L1246.4,1022.4 L1245.9,1021.9 L1245.3,1021.4 L1244.6,1021.0 L1243.8,1020.5 L1242.9,1020.0 L1242.0,1019.6 L1241.0,1019.1 L1239.9,1018.6 L1238.8,1018.2 L1237.7,1017.8 L1236.6,1017.4 L1235.5,1017.1 L1234.5,1016.8 L1233.4,1016.6 L1232.4,1016.4 L1231.3,1016.2 L1230.3,1016.1 L1229.3,1015.9 L1228.2,1015.9 L1227.2,1015.8 L1226.2,1015.8 L1225.1,1015.8 L1224.1,1015.8 L1223.1,1015.9 L1222.1,1016.0 L1221.0,1016.1 L1220.0,1016.3 L1218.9,1016.4 L1217.8,1016.6 L1216.7,1016.8 L1215.5,1017.0 L1214.4,1017.2 L1213.3,1017.4 L1212.1,1017.7 L1211.1,1017.9 L1210.0,1018.2 L1209.0,1018.4 L1208.2,1018.7 L1207.5,1018.9 L1206.7,1019.1 L1205.9,1019.4 L1204.9,1019.7 L1203.8,1020.1 L1202.4,1020.6 L1200.8,1021.2 L1198.9,1021.8 L1196.8,1022.4 L1194.7,1023.2 L1192.4,1023.9 L1190.2,1024.7 L1187.9,1025.6 L1185.8,1026.5 L1183.7,1027.5 L1181.6,1028.5 L1179.5,1029.6 L1177.3,1030.7 L1175.2,1031.9 L1173.2,1033.0 L1171.2,1034.1 L1169.3,1035.2 L1167.4,1036.2 L1165.6,1037.3 L1163.7,1038.4 L1162.0,1039.4 L1160.3,1040.4 L1158.7,1041.4 L1157.3,1042.2 L1156.0,1043.0 L1154.9,1043.6 L1154.0,1044.2 L1153.3,1044.6 L1152.6,1045.0 L1152.0,1045.3 L1151.5,1045.7 L1151.0,1046.0 L1150.5,1046.3 L1150.0,1046.6 L1149.6,1046.9 L1149.2,1047.2 L1148.8,1047.5 L1148.5,1047.8 L1148.2,1048.1 L1147.9,1048.3 L1147.6,1048.6 L1147.3,1048.8 L1147.1,1049.0 L1146.9,1049.2 L1146.7,1049.3 L1146.6,1049.5 L1146.4,1049.8 L1146.2,1050.2 L1145.9,1050.8 L1145.6,1051.6 L1145.2,1052.6 L1144.8,1053.8 L1144.3,1055.0 L1143.9,1056.3 L1143.5,1057.4 L1143.2,1058.3 L1143.0,1059.0 L1142.8,1058.3 L1142.5,1057.4 L1142.1,1056.3 L1141.7,1055.0 L1141.2,1053.8 L1140.8,1052.6 L1140.4,1051.6 L1140.1,1050.8 L1139.8,1050.2 L1139.6,1049.8 L1139.4,1049.5 L1139.3,1049.3 L1139.1,1049.2 L1138.9,1049.0 L1138.7,1048.8 L1138.4,1048.6 L1138.1,1048.3 L1137.8,1048.1 L1137.5,1047.8 L1137.2,1047.5 L1136.8,1047.2 L1136.4,1046.9 L1136.0,1046.6 L1135.5,1046.3 L1135.0,1046.0 L1134.5,1045.7 L1134.0,1045.3 L1133.4,1045.0 L1132.7,1044.6 L1132.0,1044.2 L1131.1,1043.6 L1130.0,1043.0 L1128.7,1042.2 L1127.3,1041.4 L1125.7,1040.4 L1124.0,1039.4 L1122.3,1038.4 L1120.4,1037.3 L1118.6,1036.2 L1116.7,1035.2 L1114.8,1034.1 L1112.8,1033.0 L1110.8,1031.9 L1108.7,1030.7 L1106.5,1029.6 L1104.4,1028.5 L1102.3,1027.5 L1100.2,1026.5 L1098.1,1025.6 L1095.8,1024.7 L1093.6,1023.9 L1091.3,1023.2 L1089.2,1022.4 L1087.1,1021.8 L1085.2,1021.2 L1083.6,1020.6 L1082.2,1020.1 L1081.1,1019.7 L1080.1,1019.4 L1079.3,1019.1 L1078.5,1018.9 L1077.8,1018.7 L1077.0,1018.4 L1076.0,1018.2 L1074.9,1017.9 L1073.9,1017.7 L1072.7,1017.4 L1071.6,1017.2 L1070.5,1017.0 L1069.3,1016.8 L1068.2,1016.6 L1067.1,1016.4 L1066.0,1016.3 L1065.0,1016.1 L1063.9,1016.0 L1062.9,1015.9 L1061.9,1015.8 L1060.9,1015.8 L1059.8,1015.8 L1058.8,1015.8 L1057.8,1015.9 L1056.7,1015.9 L1055.7,1016.1 L1054.7,1016.2 L1053.6,1016.4 L1052.6,1016.6 L1051.5,1016.8 L1050.5,1017.1 L1049.4,1017.4 L1048.3,1017.8 L1047.2,1018.2 L1046.1,1018.6 L1045.0,1019.1 L1044.0,1019.6 L1043.1,1020.0 L1042.2,1020.5 L1041.4,1021.0 L1040.7,1021.4 L1040.1,1021.9 L1039.6,1022.4 L1039.0,1023.0 L1038.6,1023.5 L1038.1,1024.0 L1037.7,1024.6 L1037.3,1025.2 L1037.0,1025.9 L1036.7,1026.7 L1036.5,1027.5 L1036.3,1028.2 L1036.1,1028.8 L1035.9,1029.4 L1035.8,1029.8 L1037.1,1030.9 L1038.4,1032.1 L1039.7,1033.1 L1041.1,1034.2 L1042.5,1035.2 L1043.9,1036.1 L1045.3,1037.1 L1046.8,1038.0 L1048.2,1038.8 L1049.7,1039.7 L1051.2,1040.5 L1052.7,1041.2 L1054.3,1042.0 L1055.8,1042.7 L1057.4,1043.4 L1059.0,1044.0 L1060.5,1044.7 L1062.2,1045.3 L1063.8,1045.9 L1065.4,1046.5 L1067.0,1047.0 L1068.7,1047.5 L1070.3,1048.0 L1072.0,1048.5 L1073.7,1049.0 L1075.3,1049.5 L1077.0,1049.9 L1078.7,1050.3 L1080.4,1050.8 L1082.1,1051.2 L1083.8,1051.6 L1085.5,1051.9 L1087.2,1052.3 L1088.9,1052.7 L1090.6,1053.0 L1092.3,1053.4 L1094.0,1053.7 L1095.7,1054.0 L1097.4,1054.4 L1099.1,1054.7 L1100.8,1055.0 L1102.5,1055.4 L1104.2,1055.7 L1105.8,1056.0 L1107.5,1056.3 L1109.2,1056.7 L1110.8,1057.0 L1106.6,1058.2 L1102.4,1059.5 L1098.3,1060.8 L1094.2,1062.1 L1090.1,1063.5 L1086.0,1064.9 L1082.0,1066.4 L1077.9,1067.9 L1073.9,1069.4 L1069.9,1071.0 L1066.0,1072.6 L1062.0,1074.2 L1058.1,1075.9 L1054.2,1077.6 L1050.3,1079.4 L1046.5,1081.2 L1042.6,1083.0 L1038.8,1084.9 L1035.0,1086.8 L1031.3,1088.7 L1027.5,1090.7 L1023.8,1092.7 L1020.1,1094.8 L1016.4,1096.8 L1012.8,1098.9 L1009.1,1101.1 L1005.5,1103.2 L1001.9,1105.5 L998.4,1107.7 L994.8,1110.0 L991.3,1112.3 L987.8,1114.6 L984.3,1117.0 L980.9,1119.4 L977.4,1121.8 L974.0,1124.3 L970.6,1126.8 L967.3,1129.3 L963.9,1131.8 L960.6,1134.4 L957.3,1137.0 L954.0,1139.7 L950.8,1142.3 L947.6,1145.0 L944.3,1147.7 L941.2,1150.5 L938.0,1153.3 L934.9,1156.1 L931.7,1158.9 L928.6,1161.8 L925.6,1164.7 L922.5,1167.6 L919.5,1170.5 L916.5,1173.5 L913.5,1176.5 L910.5,1179.5 L907.6,1182.5 L904.7,1185.6 L901.8,1188.7 L898.9,1191.8 L896.1,1194.9 L893.2,1198.1 L890.4,1201.3 L887.7,1204.5 L884.9,1207.7 L882.2,1210.9 L879.5,1214.2 L876.8,1217.5 L874.1,1220.8 L871.4,1224.2 L868.8,1227.5 L866.2,1230.9 L863.6,1234.3 L861.1,1237.7 L858.6,1241.2 L856.0,1244.6 L853.6,1248.1 L851.1,1251.6 L848.7,1255.1 L846.2,1258.6 L843.8,1262.2 L841.5,1265.8 L839.1,1269.4 L836.8,1273.0 L834.5,1276.6 L832.2,1280.2 L829.9,1283.9 L827.7,1287.5 L825.5,1291.2 L823.3,1294.9 L821.1,1298.7 L819.0,1302.4 L816.8,1306.1 L814.7,1309.9 L812.7,1313.7 L810.6,1317.5 L808.6,1321.3 L806.6,1325.1 L804.6,1328.9 L802.6,1332.8 L800.7,1336.6 L798.8,1340.5 L796.9,1344.4 L795.0,1348.3 L793.1,1352.2 L791.3,1356.1 L789.5,1360.0 L787.7,1363.9 L786.0,1367.9 L784.3,1371.8 L782.6,1375.8 L780.9,1379.8 L779.2,1383.8 L777.6,1387.8 L776.0,1391.8 L774.4,1395.8 L772.9,1399.8 L771.4,1403.9 L769.9,1407.9 L768.4,1412.0 L767.0,1416.0 L765.6,1420.1 L764.2,1424.2 L762.9,1428.2 L761.6,1432.3 L760.3,1436.4 L759.0,1440.5 L757.8,1444.7 L756.6,1448.8 L755.5,1452.9 L754.3,1457.0 L753.2,1461.2 L752.2,1465.3 L751.1,1469.5 L750.2,1473.6 L749.2,1477.8 L748.3,1481.9 L747.4,1486.1 L746.5,1490.3 L745.7,1494.4 L744.9,1498.6 L744.1,1502.8 L743.4,1507.0 L742.7,1511.2 L742.1,1515.4 L741.5,1519.6 L740.9,1523.8 L740.3,1528.0 L739.8,1532.2 L739.4,1536.4 L739.0,1540.6 L738.6,1544.8 L738.2,1549.0 L737.9,1553.2 L737.6,1557.4 L737.4,1561.6 L737.2,1565.8 L737.1,1570.1 L737.0,1574.3 L736.9,1578.5 L736.9,1582.7 L736.9,1586.9 L737.0,1591.1 L737.1,1595.3 L737.2,1599.5 L737.4,1603.7 L737.6,1607.9 L737.9,1612.2 L738.2,1616.4 L738.6,1620.6 L739.0,1624.8 L739.4,1628.9 L739.9,1633.1 L740.5,1637.3 L741.0,1641.5 L741.7,1645.7 L742.4,1649.9 L743.1,1654.0 L743.9,1658.2 L744.7,1662.3 L745.5,1666.5 L746.4,1670.6 L747.4,1674.7 L748.4,1678.8 L749.5,1682.9 L750.5,1687.0 L751.7,1691.1 L752.9,1695.2 L754.1,1699.2 L755.4,1703.2 L756.7,1707.2 L758.1,1711.2 L759.6,1715.2 L761.0,1719.2 L762.6,1723.1 L764.2,1727.0 L765.8,1730.9 L767.5,1734.8 L769.2,1738.6 L771.0,1742.5 L772.8,1746.3 L774.6,1750.1 L776.6,1753.8 L778.5,1757.5 L780.6,1761.3 L782.6,1764.9 L784.8,1768.6 L786.9,1772.2 L789.2,1775.8 L791.4,1779.3 L793.8,1782.9 L796.1,1786.4 L798.6,1789.8 L801.0,1793.2 L803.6,1796.6 L806.2,1800.0 L808.8,1803.3 L811.5,1806.6 L814.2,1809.8 L817.0,1813.1 L819.9,1816.2 L822.8,1819.4 L825.7,1822.4 L828.7,1825.5 L831.8,1828.5 L834.9,1831.5 L838.0,1834.4 L841.3,1837.3 L844.5,1840.1 L847.8,1842.9 L851.2,1845.6 L854.7,1848.3 L858.1,1851.0 L861.7,1853.6 L865.3,1856.1 L868.9,1858.6 L872.6,1861.1 L876.4,1863.5 L880.2,1865.8 L908.7,1877.7 L941.7,1864.6 L945.2,1860.6 L948.7,1856.7 L952.1,1852.7 L955.5,1848.6 L958.8,1844.6 L962.1,1840.5 L965.3,1836.4 L968.6,1832.3 L971.7,1828.1 L974.8,1823.9 L977.9,1819.7 L981.0,1815.5 L984.0,1811.2 L986.9,1807.0 L989.8,1802.7 L992.7,1798.3 L995.6,1794.0 L998.4,1789.6 L1001.1,1785.3 L1003.8,1780.9 L1006.5,1776.4 L1009.2,1772.0 L1011.8,1767.5 L1014.4,1763.0 L1016.9,1758.5 L1019.4,1754.0 L1021.9,1749.5 L1024.3,1744.9 L1026.7,1740.3 L1029.0,1735.7 L1031.3,1731.1 L1033.6,1726.5 L1035.9,1721.8 L1038.1,1717.1 L1040.3,1712.4 L1042.4,1707.7 L1044.5,1703.0 L1046.6,1698.3 L1048.6,1693.5 L1050.7,1688.8 L1052.6,1684.0 L1054.6,1679.2 L1056.5,1674.4 L1058.4,1669.5 L1060.2,1664.7 L1062.1,1659.8 L1063.9,1655.0 L1065.6,1650.1 L1067.4,1645.2 L1069.1,1640.3 L1070.7,1635.4 L1072.4,1630.4 L1074.0,1625.5 L1075.6,1620.5 L1077.1,1615.6 L1078.7,1610.6 L1080.2,1605.6 L1081.7,1600.6 L1083.1,1595.6 L1084.5,1590.6 L1085.9,1585.5 L1087.3,1580.5 L1088.6,1575.4 L1090.0,1570.4 L1091.3,1565.3 L1092.5,1560.2 L1093.8,1555.2 L1095.0,1550.1 L1096.2,1545.0 L1097.4,1539.9 L1098.5,1534.8 L1099.7,1529.6 L1100.8,1524.5 L1101.9,1519.4 L1102.9,1514.3 L1104.0,1509.1 L1105.0,1504.0 L1106.0,1498.8 L1106.9,1493.7 L1107.9,1488.5 L1108.8,1483.3 L1109.8,1478.2 L1110.7,1473.0 L1111.5,1467.8 L1112.4,1462.6 L1113.2,1457.5 L1114.0,1452.3 L1114.8,1447.1 L1115.6,1441.9 L1116.4,1436.7 L1117.2,1431.5 L1117.9,1426.3 L1118.6,1421.2 L1119.3,1416.0 L1120.0,1410.8 L1120.7,1405.6 L1121.3,1400.4 L1121.9,1395.2 L1122.6,1390.0 L1123.2,1384.8 L1123.8,1379.6 L1124.4,1374.5 L1124.9,1369.3 L1125.5,1364.1 L1126.0,1358.9 L1126.5,1353.8 L1127.1,1348.6 L1127.6,1343.4 L1128.1,1338.3 L1128.5,1333.1 L1129.0,1327.9 L1129.5,1322.8 L1129.9,1317.6 L1130.4,1312.5 L1130.8,1307.4 L1131.2,1302.2 L1131.6,1297.1 L1132.0,1292.0 L1132.4,1286.9 L1132.6,1284.8 L1132.9,1282.1 L1133.2,1278.9 L1133.6,1275.3 L1134.0,1271.4 L1134.4,1267.3 L1134.8,1263.1 L1135.2,1259.0 L1135.6,1254.7 L1136.1,1250.1 L1136.5,1245.2 L1137.0,1240.2 L1137.5,1235.3 L1137.9,1230.4 L1138.3,1225.9 L1138.7,1221.7 L1139.0,1217.9 L1139.4,1214.5 L1139.6,1211.2 L1139.9,1208.1 L1140.2,1205.1 L1140.4,1202.2 L1140.6,1199.1 L1140.8,1196.0 L1141.0,1192.8 L1141.1,1189.5 L1141.2,1186.2 L1141.3,1182.9 L1141.4,1179.6 L1141.5,1176.4 L1141.6,1173.2 L1141.7,1170.0 L1141.8,1166.8 L1141.9,1163.4 L1142.0,1160.0 L1142.1,1156.7 L1142.2,1153.6 L1142.3,1150.7 L1142.4,1148.1 L1142.5,1146.0 L1142.6,1144.4 L1142.7,1143.2 L1142.7,1142.3 L1142.8,1141.7 L1142.9,1141.3 L1142.9,1141.0 L1143.0,1140.7 L1143.0,1140.4 Z" fill="none" stroke="#000" stroke-width="4.3" stroke-linejoin="miter" stroke-miterlimit="3"/>
<polygon points="1143,1121.2 1145.15,1141 1140.85,1141" fill="#000"/>
<polygon points="1140.6,1058.8 1145.4,1058.8 1143,1065.6" fill="#000"/>
<g fill="#fff">
<rect x="36.4" y="33.8" width="125.1" height="66.2"/>
<rect x="439.3" y="33.8" width="127.0" height="66.2"/>
<rect x="782.8" y="33.8" width="125.5" height="66.2"/>
<rect x="1078.0" y="33.8" width="126.3" height="66.2"/>
<rect x="1375.2" y="33.8" width="125.5" height="66.2"/>
<rect x="1716.0" y="33.8" width="127.0" height="66.2"/>
<rect x="2121.6" y="33.8" width="125.9" height="66.2"/>
<rect x="32.0" y="2013.4" width="101.2" height="66.4"/>
<rect x="452.0" y="2013.4" width="101.7" height="66.4"/>
<rect x="795.6" y="2013.4" width="99.8" height="66.4"/>
<rect x="1104.4" y="2013.4" width="73.7" height="66.4"/>
<rect x="1388.8" y="2013.4" width="99.8" height="66.4"/>
<rect x="1728.7" y="2013.4" width="101.7" height="66.4"/>
<rect x="2147.6" y="2013.4" width="101.2" height="66.4"/>
<rect x="36.0" y="430.8" width="124.6" height="66.4"/>
<rect x="2125.0" y="430.8" width="124.5" height="66.4"/>
<rect x="36.0" y="748.1" width="124.6" height="66.4"/>
<rect x="2125.0" y="748.1" width="124.5" height="66.4"/>
<rect x="33.1" y="1023.0" width="99.2" height="66.4"/>
<rect x="2150.0" y="1023.0" width="99.3" height="66.4"/>
<rect x="33.1" y="1298.0" width="99.2" height="66.4"/>
<rect x="2150.0" y="1298.0" width="99.3" height="66.4"/>
<rect x="33.1" y="1614.9" width="99.2" height="66.4"/>
<rect x="2150.0" y="1614.9" width="99.3" height="66.4"/>
<rect x="1091.5" y="193.6" width="102.5" height="54.9"/>
<rect x="1091.5" y="403.5" width="102.5" height="55.2"/>
<rect x="1091.5" y="611.6" width="102.5" height="53.6"/>
</g>
</g>
<rect x="15" y="15" width="2257" height="2087.5" fill="none" stroke="#000" stroke-width="4"/>
<text transform="translate(44.59,85.47) scale(0.9265,1)" font-size="53.95">135</text>
<circle cx="140.35" cy="56.65" r="7.20" fill="none" stroke="#000" stroke-width="3.9"/>
<text transform="translate(447.41,85.47) scale(0.9475,1)" font-size="53.95">150</text>
<circle cx="545.15" cy="56.65" r="7.20" fill="none" stroke="#000" stroke-width="3.9"/>
<text transform="translate(790.92,85.47) scale(0.9313,1)" font-size="53.95">165</text>
<circle cx="887.10" cy="56.65" r="7.20" fill="none" stroke="#000" stroke-width="3.9"/>
<text transform="translate(1086.19,85.47) scale(0.9391,1)" font-size="53.95">180</text>
<circle cx="1183.20" cy="56.65" r="7.20" fill="none" stroke="#000" stroke-width="3.9"/>
<text transform="translate(1383.42,85.47) scale(0.9313,1)" font-size="53.95">165</text>
<circle cx="1479.60" cy="56.65" r="7.20" fill="none" stroke="#000" stroke-width="3.9"/>
<text transform="translate(1724.11,85.47) scale(0.9475,1)" font-size="53.95">150</text>
<circle cx="1821.85" cy="56.65" r="7.20" fill="none" stroke="#000" stroke-width="3.9"/>
<text transform="translate(2129.75,85.47) scale(0.9361,1)" font-size="53.95">135</text>
<circle cx="2226.35" cy="56.65" r="7.20" fill="none" stroke="#000" stroke-width="3.9"/>
<text transform="translate(42.83,2065.26) scale(0.9299,1)" font-size="55.03">45</text>
<circle cx="112.05" cy="2036.25" r="7.20" fill="none" stroke="#000" stroke-width="3.9"/>
<text transform="translate(462.06,2065.27) scale(0.9636,1)" font-size="54.24">30</text>
<circle cx="532.60" cy="2036.25" r="7.20" fill="none" stroke="#000" stroke-width="3.9"/>
<text transform="translate(803.60,2065.26) scale(0.9541,1)" font-size="55.03">15</text>
<circle cx="874.25" cy="2036.25" r="7.20" fill="none" stroke="#000" stroke-width="3.9"/>
<text transform="translate(1114.22,2065.27) scale(1.0067,1)" font-size="54.24">0</text>
<circle cx="1156.90" cy="2036.25" r="7.20" fill="none" stroke="#000" stroke-width="3.9"/>
<text transform="translate(1396.80,2065.26) scale(0.9541,1)" font-size="55.03">15</text>
<circle cx="1467.45" cy="2036.25" r="7.20" fill="none" stroke="#000" stroke-width="3.9"/>
<text transform="translate(1738.66,2065.27) scale(0.9636,1)" font-size="54.24">30</text>
<circle cx="1809.20" cy="2036.25" r="7.20" fill="none" stroke="#000" stroke-width="3.9"/>
<text transform="translate(2158.43,2065.26) scale(0.9299,1)" font-size="55.03">45</text>
<circle cx="2227.65" cy="2036.25" r="7.20" fill="none" stroke="#000" stroke-width="3.9"/>
<text transform="translate(44.22,482.67) scale(0.9140,1)" font-size="54.24">120</text>
<circle cx="139.45" cy="453.65" r="7.20" fill="none" stroke="#000" stroke-width="3.9"/>
<text transform="translate(2133.23,482.67) scale(0.9129,1)" font-size="54.24">120</text>
<circle cx="2228.35" cy="453.65" r="7.20" fill="none" stroke="#000" stroke-width="3.9"/>
<text transform="translate(44.22,799.97) scale(0.9158,1)" font-size="54.24">105</text>
<circle cx="139.45" cy="770.95" r="7.20" fill="none" stroke="#000" stroke-width="3.9"/>
<text transform="translate(2133.22,799.97) scale(0.9146,1)" font-size="54.24">105</text>
<circle cx="2228.35" cy="770.95" r="7.20" fill="none" stroke="#000" stroke-width="3.9"/>
<text transform="translate(42.74,1074.87) scale(0.9269,1)" font-size="54.24">90</text>
<circle cx="111.15" cy="1045.85" r="7.20" fill="none" stroke="#000" stroke-width="3.9"/>
<text transform="translate(2159.64,1074.87) scale(0.9287,1)" font-size="54.24">90</text>
<circle cx="2228.15" cy="1045.85" r="7.20" fill="none" stroke="#000" stroke-width="3.9"/>
<text transform="translate(42.50,1349.86) scale(0.9201,1)" font-size="55.03">75</text>
<circle cx="111.15" cy="1320.85" r="7.20" fill="none" stroke="#000" stroke-width="3.9"/>
<text transform="translate(2159.40,1349.86) scale(0.9219,1)" font-size="55.03">75</text>
<circle cx="2228.15" cy="1320.85" r="7.20" fill="none" stroke="#000" stroke-width="3.9"/>
<text transform="translate(42.54,1666.77) scale(0.9305,1)" font-size="54.24">60</text>
<circle cx="111.15" cy="1637.75" r="7.20" fill="none" stroke="#000" stroke-width="3.9"/>
<text transform="translate(2159.43,1666.77) scale(0.9323,1)" font-size="54.24">60</text>
<circle cx="2228.15" cy="1637.75" r="7.20" fill="none" stroke="#000" stroke-width="3.9"/>
<text transform="translate(1100.60,244.68) scale(0.9285,1)" font-size="53.67">320</text>
<text transform="translate(1099.44,453.77) scale(0.9399,1)" font-size="54.24">240</text>
<text transform="translate(1100.36,662.47) scale(0.9295,1)" font-size="54.24">160</text>
<line x1="34.8" y1="2226.2" x2="181.3" y2="2226.2" stroke="#000" stroke-width="5"/>
<g stroke="#000" stroke-width="6">
<line x1="489.8" y1="2226.1" x2="516.6" y2="2226.1"/>
<line x1="544.5" y1="2226.1" x2="571.3" y2="2226.1"/>
<line x1="599.3" y1="2226.1" x2="625.6" y2="2226.1"/>
</g>
<text transform="translate(42.96,2189.10) scale(0.9909,1)" font-size="65.00">cd/klm</text>
<text transform="translate(193.98,2251.70) scale(0.9101,1)" font-size="54.42">C0 - C180</text>
<text transform="translate(649.17,2251.70) scale(0.9063,1)" font-size="55.00">C90 - C270</text>
</svg>
</body></html>
